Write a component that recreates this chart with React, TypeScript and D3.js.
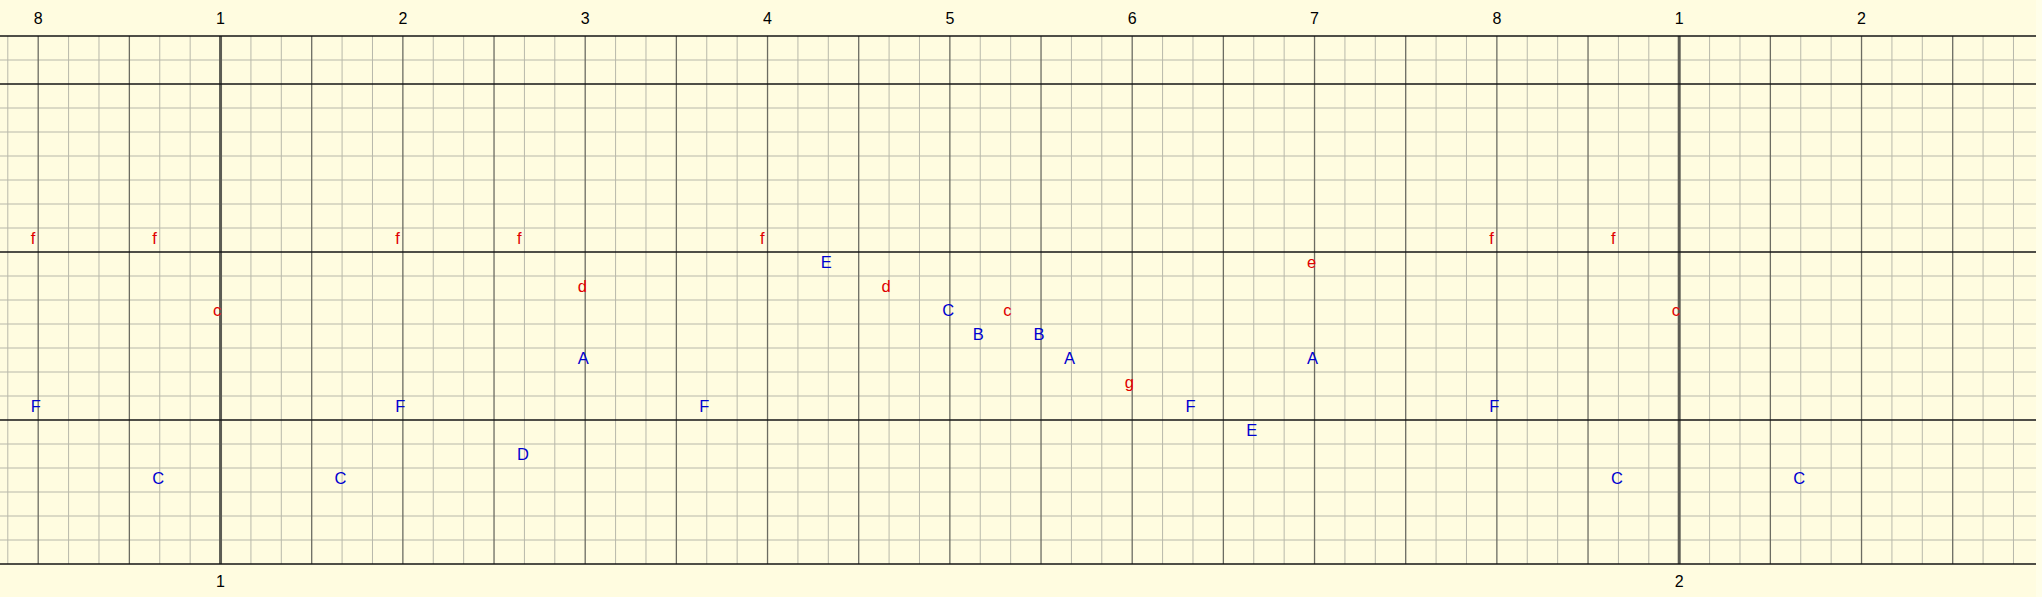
import React from "react";
import * as d3 from "d3";

// ---- data ----
const beatLabels = ["8", "1", "2", "3", "4", "5", "6", "7", "8", "1", "2"];
const beatTimes = [0, 6, 12, 18, 24, 30, 36, 42, 48, 54, 60];
const measureLabels = ["1", "2"];
const measureTimes = [6, 54];
const boldRowLines = [0, 2, 9, 16, 22];

const noteTimes = [0, 0, 4, 4, 6, 10, 12, 12, 16, 16, 18, 18, 22, 24, 26, 28, 30, 31, 32, 33, 34, 36, 38, 40, 42, 42, 48, 48, 52, 52, 54, 58];
const noteRows = [8, 15, 8, 18, 11, 18, 8, 15, 8, 17, 10, 13, 15, 8, 9, 10, 11, 12, 11, 12, 13, 14, 15, 16, 9, 13, 8, 15, 8, 18, 11, 18];
const noteNames = ["f", "F", "f", "C", "c", "C", "f", "F", "f", "D", "d", "A", "F", "f", "E", "d", "C", "B", "c", "B", "A", "g", "F", "E", "e", "A", "f", "F", "f", "C", "c", "C"];

const W = 2042;
const H = 597;
const GRID_RIGHT = 2036;

export default function App() {
  const x = d3.scaleLinear().domain([0, 54]).range([38.2, 1679.2]);
  const y = d3.scaleLinear().domain([0, 22]).range([36, 564]);
  const rowH = y(1) - y(0);

  const tMin = Math.floor(x.invert(0));
  const tMax = Math.ceil(x.invert(GRID_RIGHT));
  const vLines = d3.range(tMin, tMax + 1).filter((t) => x(t) >= 0 && x(t) <= GRID_RIGHT);
  const hLines = d3.range(0, 23);

  const font = "'Liberation Sans', Arial, sans-serif";

  return (
    <svg
      width={W}
      height={H}
      style={{ position: "absolute", left: 0, top: 0, display: "block" }}
    >
      <rect x={0} y={0} width={W} height={H} fill="#fffee9" />
      <rect x={0} y={0} width={GRID_RIGHT} height={H} fill="#fffce0" />
      {/* light vertical lines */}
      {vLines
        .filter((t) => t % 3 !== 0)
        .map((t) => (
          <line key={"vl" + t} x1={x(t)} x2={x(t)} y1={y(0)} y2={y(22)} stroke="#b8b8aa" strokeWidth={1} />
        ))}
      {/* light horizontal lines */}
      {hLines
        .filter((r) => !boldRowLines.includes(r))
        .map((r) => (
          <line key={"hl" + r} x1={0} x2={GRID_RIGHT} y1={y(r)} y2={y(r)} stroke="#b8b8aa" strokeWidth={1} />
        ))}
      {/* medium vertical lines */}
      {vLines
        .filter((t) => t % 3 === 0 && !measureTimes.includes(t))
        .map((t) => (
          <line key={"vm" + t} x1={x(t)} x2={x(t)} y1={y(0)} y2={y(22)} stroke="#6c6c62" strokeWidth={1.3} />
        ))}
      {/* bar lines */}
      {measureTimes.map((t) => (
        <line key={"vb" + t} x1={x(t)} x2={x(t)} y1={y(0)} y2={y(22)} stroke="#5c5c54" strokeWidth={3} />
      ))}
      {/* bold horizontal lines */}
      {boldRowLines.map((r) => (
        <line key={"hb" + r} x1={0} x2={GRID_RIGHT} y1={y(r)} y2={y(r)} stroke="#141414" strokeWidth={1.6} />
      ))}
      {/* beat labels */}
      {beatTimes.map((t, i) => (
        <text key={"bt" + i} x={x(t)} y={24} textAnchor="middle" fontFamily={font} fontSize={16} fill="#000">
          {beatLabels[i]}
        </text>
      ))}
      {/* measure labels */}
      {measureTimes.map((t, i) => (
        <text key={"mt" + i} x={x(t)} y={587} textAnchor="middle" fontFamily={font} fontSize={16} fill="#000">
          {measureLabels[i]}
        </text>
      ))}
      {/* notes */}
      {noteTimes.map((t, i) => {
        const name = noteNames[i];
        const isLower = name === name.toLowerCase();
        return (
          <text
            key={"n" + i}
            x={x(t) - 7.5}
            y={y(noteRows[i]) + rowH / 2 + 3.8}
            fontFamily={font}
            fontSize={16.5}
            fill={isLower ? "#e00000" : "#0000d0"}
          >
            {name}
          </text>
        );
      })}
    </svg>
  );
}
